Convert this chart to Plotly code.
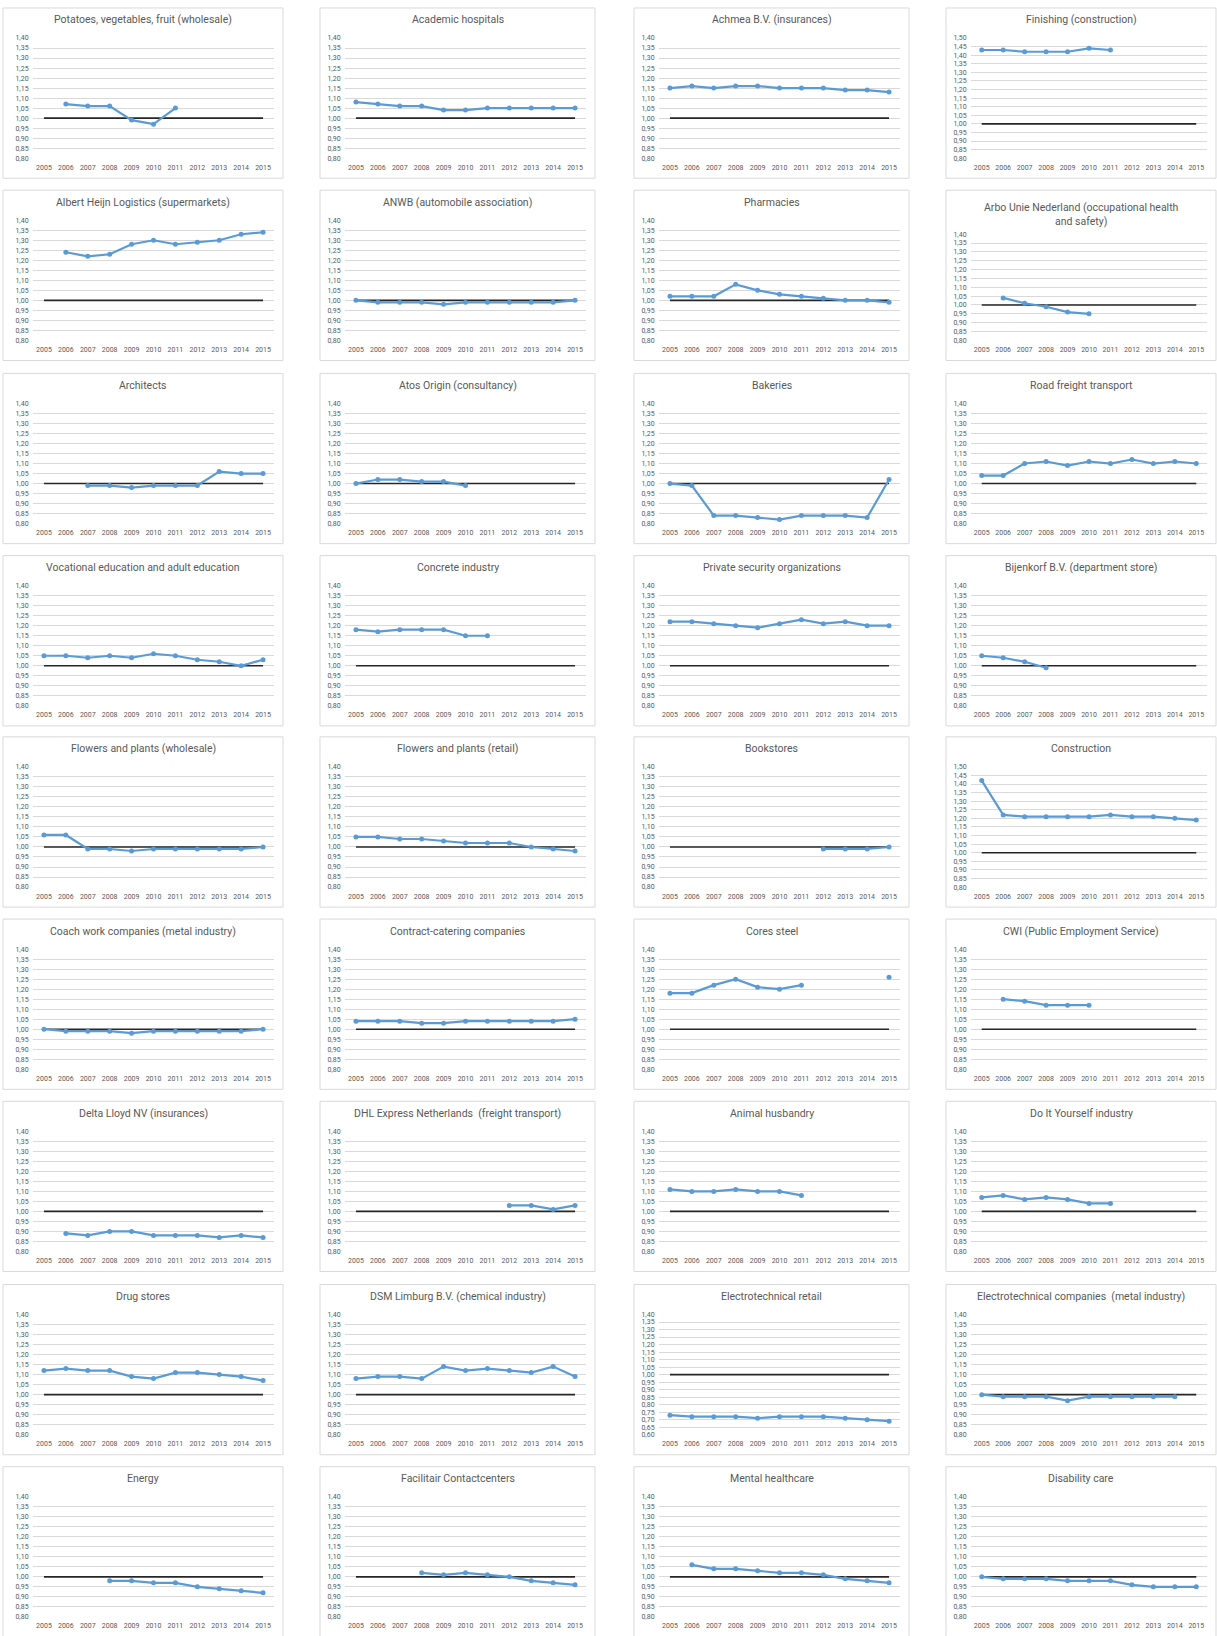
import plotly.graph_objects as go

# Years on the horizontal axis of every panel
years = [2005, 2006, 2007, 2008, 2009, 2010, 2011, 2012, 2013, 2014, 2015]

# Panel titles, in reading order (4 per row)
titles = [
    "Potatoes, vegetables, fruit (wholesale)", "Academic hospitals",
    "Achmea B.V. (insurances)", "Finishing (construction)",
    "Albert Heijn Logistics (supermarkets)", "ANWB (automobile association)",
    "Pharmacies", "Arbo Unie Nederland (occupational health<br>and safety)",
    "Architects", "Atos Origin (consultancy)", "Bakeries", "Road freight transport",
    "Vocational education and adult education", "Concrete industry",
    "Private security organizations", "Bijenkorf B.V. (department store)",
    "Flowers and plants (wholesale)", "Flowers and plants (retail)", "Bookstores",
    "Construction",
    "Coach work companies (metal industry)", "Contract-catering companies",
    "Cores steel", "CWI (Public Employment Service)",
    "Delta Lloyd NV (insurances)", "DHL Express Netherlands  (freight transport)",
    "Animal husbandry", "Do It Yourself industry",
    "Drug stores", "DSM Limburg B.V. (chemical industry)", "Electrotechnical retail",
    "Electrotechnical companies  (metal industry)",
    "Energy", "Facilitair Contactcenters", "Mental healthcare", "Disability care",
]

N = None
potatoes = [N, 1.07, 1.06, 1.06, 0.99, 0.97, 1.05, N, N, N, N]
academic = [1.08, 1.07, 1.06, 1.06, 1.04, 1.04, 1.05, 1.05, 1.05, 1.05, 1.05]
achmea = [1.15, 1.16, 1.15, 1.16, 1.16, 1.15, 1.15, 1.15, 1.14, 1.14, 1.13]
finishing = [1.43, 1.43, 1.42, 1.42, 1.42, 1.44, 1.43, N, N, N, N]
albert_heijn = [N, 1.24, 1.22, 1.23, 1.28, 1.30, 1.28, 1.29, 1.30, 1.33, 1.34]
anwb = [1.00, 0.99, 0.99, 0.99, 0.98, 0.99, 0.99, 0.99, 0.99, 0.99, 1.00]
pharmacies = [1.02, 1.02, 1.02, 1.08, 1.05, 1.03, 1.02, 1.01, 1.00, 1.00, 0.99]
arbo_unie = [N, 1.04, 1.01, 0.99, 0.96, 0.95, N, N, N, N, N]
architects = [N, N, 0.99, 0.99, 0.98, 0.99, 0.99, 0.99, 1.06, 1.05, 1.05]
atos = [1.00, 1.02, 1.02, 1.01, 1.01, 0.99, N, N, N, N, N]
bakeries = [1.00, 0.99, 0.84, 0.84, 0.83, 0.82, 0.84, 0.84, 0.84, 0.83, 1.02]
road_freight = [1.04, 1.04, 1.10, 1.11, 1.09, 1.11, 1.10, 1.12, 1.10, 1.11, 1.10]
vocational = [1.05, 1.05, 1.04, 1.05, 1.04, 1.06, 1.05, 1.03, 1.02, 1.00, 1.03]
concrete = [1.18, 1.17, 1.18, 1.18, 1.18, 1.15, 1.15, N, N, N, N]
security = [1.22, 1.22, 1.21, 1.20, 1.19, 1.21, 1.23, 1.21, 1.22, 1.20, 1.20]
bijenkorf = [1.05, 1.04, 1.02, 0.99, N, N, N, N, N, N, N]
flowers_wholesale = [1.06, 1.06, 0.99, 0.99, 0.98, 0.99, 0.99, 0.99, 0.99, 0.99, 1.00]
flowers_retail = [1.05, 1.05, 1.04, 1.04, 1.03, 1.02, 1.02, 1.02, 1.00, 0.99, 0.98]
bookstores = [N, N, N, N, N, N, N, 0.99, 0.99, 0.99, 1.00]
construction = [1.42, 1.22, 1.21, 1.21, 1.21, 1.21, 1.22, 1.21, 1.21, 1.20, 1.19]
coach_work = [1.00, 0.99, 0.99, 0.99, 0.98, 0.99, 0.99, 0.99, 0.99, 0.99, 1.00]
catering = [1.04, 1.04, 1.04, 1.03, 1.03, 1.04, 1.04, 1.04, 1.04, 1.04, 1.05]
cores_steel = [1.18, 1.18, 1.22, 1.25, 1.21, 1.20, 1.22, N, N, N, 1.26]
cwi = [N, 1.15, 1.14, 1.12, 1.12, 1.12, N, N, N, N, N]
delta_lloyd = [N, 0.89, 0.88, 0.90, 0.90, 0.88, 0.88, 0.88, 0.87, 0.88, 0.87]
dhl = [N, N, N, N, N, N, N, 1.03, 1.03, 1.01, 1.03]
animal = [1.11, 1.10, 1.10, 1.11, 1.10, 1.10, 1.08, N, N, N, N]
diy = [1.07, 1.08, 1.06, 1.07, 1.06, 1.04, 1.04, N, N, N, N]
drug_stores = [1.12, 1.13, 1.12, 1.12, 1.09, 1.08, 1.11, 1.11, 1.10, 1.09, 1.07]
dsm = [1.08, 1.09, 1.09, 1.08, 1.14, 1.12, 1.13, 1.12, 1.11, 1.14, 1.09]
electro_retail = [0.73, 0.72, 0.72, 0.72, 0.71, 0.72, 0.72, 0.72, 0.71, 0.70, 0.69]
electro_companies = [1.00, 0.99, 0.99, 0.99, 0.97, 0.99, 0.99, 0.99, 0.99, 0.99, N]
energy = [N, N, N, 0.98, 0.98, 0.97, 0.97, 0.95, 0.94, 0.93, 0.92]
facilitair = [N, N, N, 1.02, 1.01, 1.02, 1.01, 1.00, 0.98, 0.97, 0.96]
mental = [N, 1.06, 1.04, 1.04, 1.03, 1.02, 1.02, 1.01, 0.99, 0.98, 0.97]
disability = [1.00, 0.99, 0.99, 0.99, 0.98, 0.98, 0.98, 0.96, 0.95, 0.95, 0.95]

series = [
    potatoes, academic, achmea, finishing,
    albert_heijn, anwb, pharmacies, arbo_unie,
    architects, atos, bakeries, road_freight,
    vocational, concrete, security, bijenkorf,
    flowers_wholesale, flowers_retail, bookstores, construction,
    coach_work, catering, cores_steel, cwi,
    delta_lloyd, dhl, animal, diy,
    drug_stores, dsm, electro_retail, electro_companies,
    energy, facilitair, mental, disability,
]

# Reference level drawn in every panel
reference = [1.00] * len(years)

# Vertical axis limits per panel (default 0.80 - 1.40)
y_limits = {3: (0.80, 1.50), 19: (0.80, 1.50), 30: (0.60, 1.40)}
two_line_titles = {7}

W, H = 1217, 1636
col_left = [3, 320, 634, 946]
col_width = [280, 275, 275, 270]
plot_left = [30, 25, 25, 25]
row_top = [5, 188, 372, 555, 737, 920, 1103, 1287, 1470]
box_h = 171

BLUE = "#5B9BD5"
GREY_TXT = "#595959"
GRID = "#D9D9D9"
FONT = "Roboto"


def px(x):
    return x / W


def py(y):
    return 1 - y / H


fig = go.Figure()
layout = {}
shapes = []
annotations = []

for i, (title, vals) in enumerate(zip(titles, series)):
    r, c = divmod(i, 4)
    bx, by, bw = col_left[c], row_top[r], col_width[c]
    k = "" if i == 0 else str(i + 1)

    shapes.append(dict(type="rect", xref="paper", yref="paper",
                       x0=px(bx), x1=px(bx + bw), y0=py(by + box_h), y1=py(by),
                       line=dict(color=GRID, width=1), fillcolor="white", layer="below"))

    top = by + (44 if i in two_line_titles else 30)
    bottom = by + 151
    left = bx + plot_left[c]
    right = bx + bw - 9

    lo, hi = y_limits.get(i, (0.80, 1.40))
    layout[f"xaxis{k}"] = dict(
        domain=[px(left), px(right)], anchor=f"y{k}",
        range=[2004.5, 2015.5], tickvals=years, ticktext=[str(y) for y in years],
        showgrid=False, zeroline=False, showline=False,
        ticks="outside", ticklen=2, tickcolor="rgba(0,0,0,0)",
        tickfont=dict(size=7, color=GREY_TXT, family=FONT), fixedrange=True,
    )
    layout[f"yaxis{k}"] = dict(
        domain=[py(bottom), py(top)], anchor=f"x{k}",
        range=[lo - 0.0008, hi + 0.0008], dtick=0.05, tick0=0, tickformat=".2f",
        showgrid=True, gridcolor=GRID, gridwidth=1, zeroline=False, showline=False,
        ticks="outside", ticklen=2, tickcolor="rgba(0,0,0,0)",
        tickfont=dict(size=7, color=GREY_TXT, family=FONT), fixedrange=True,
    )

    fig.add_trace(go.Scatter(
        x=years, y=reference, mode="lines", xaxis=f"x{k}", yaxis=f"y{k}",
        line=dict(color="#262626", width=1.6), hoverinfo="skip", showlegend=False,
    ))
    fig.add_trace(go.Scatter(
        x=years, y=vals, mode="lines+markers", xaxis=f"x{k}", yaxis=f"y{k}",
        line=dict(color=BLUE, width=2.2), marker=dict(color=BLUE, size=5),
        connectgaps=False, name=title.replace("<br>", " "), showlegend=False,
    ))

    ty = by + (24 if i in two_line_titles else 12)
    annotations.append(dict(
        text=title, xref="paper", yref="paper", x=px(bx + bw / 2), y=py(ty),
        xanchor="center", yanchor="middle", showarrow=False,
        font=dict(size=10.5, color=GREY_TXT, family=FONT),
    ))

fig.update_layout(
    width=W, height=H, margin=dict(l=0, r=0, t=0, b=0),
    paper_bgcolor="white", plot_bgcolor="rgba(0,0,0,0)",
    separators=",.", shapes=shapes, annotations=annotations,
    **layout,
)

fig.write_html("out.html")
